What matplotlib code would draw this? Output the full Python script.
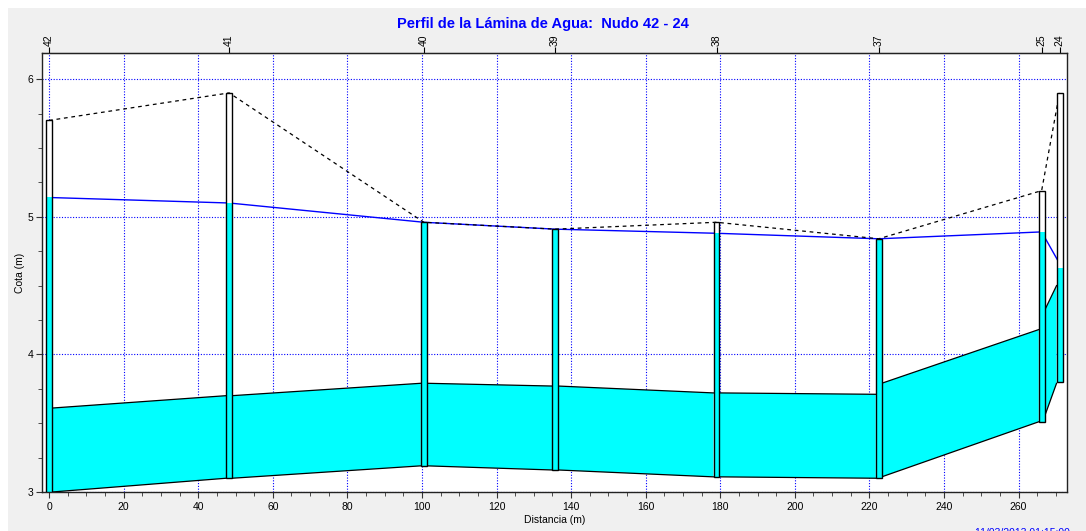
import matplotlib
matplotlib.use("Agg")
import matplotlib.pyplot as plt
from matplotlib.patches import Rectangle, Polygon

plt.rcParams['font.family'] = ['Liberation Sans', 'DejaVu Sans']

# nodes along the profile
nodes = ['42', '41', '40', '39', '38', '37', '25', '24']
dist = [0.0, 48.3, 100.5, 135.7, 179.0, 222.5, 266.2, 271.0]
ground = [5.70, 5.90, 4.96, 4.91, 4.96, 4.84, 5.19, 5.90]
invert = [3.00, 3.10, 3.19, 3.16, 3.11, 3.10, 3.51, 3.80]
water = [5.14, 5.10, 4.96, 4.91, 4.88, 4.84, 4.89, 4.63]
water_line = [5.14, 5.10, 4.96, 4.91, 4.88, 4.84, 4.89, 4.66]

# conduits between consecutive nodes (invert / crown at each end)
pipe_inv_up = [3.00, 3.10, 3.19, 3.16, 3.11, 3.11, 3.55]
pipe_inv_dn = [3.10, 3.19, 3.16, 3.11, 3.10, 3.51, 3.79]
pipe_top_up = [3.61, 3.70, 3.79, 3.77, 3.72, 3.79, 4.32]
pipe_top_dn = [3.70, 3.79, 3.77, 3.72, 3.71, 4.18, 4.50]

W, H = 1086, 531
fig = plt.figure(figsize=(W / 100, H / 100), dpi=100, facecolor='white')
fig.patches.append(Rectangle((8 / W, 0), 1, 1 - 8 / H, transform=fig.transFigure,
                             facecolor='#f0f0f0', edgecolor='none', zorder=-10))
ax = fig.add_axes([42 / W, 1 - 492 / H, (1067 - 42) / W, (492 - 53) / H])
ax.set_facecolor('white')

hw = 0.8  # half width of manhole box

# pipes
for i in range(len(pipe_inv_up)):
    x0 = dist[i] + hw
    x1 = dist[i + 1] - hw
    poly = Polygon([(x0, pipe_inv_up[i]), (x1, pipe_inv_dn[i]),
                    (x1, pipe_top_dn[i]), (x0, pipe_top_up[i])],
                   closed=True, facecolor='#00ffff', edgecolor='none', zorder=2)
    ax.add_patch(poly)
    ax.plot([x0, x1], [pipe_inv_up[i], pipe_inv_dn[i]], color='black', lw=0.9, zorder=3)
    ax.plot([x0, x1], [pipe_top_up[i], pipe_top_dn[i]], color='black', lw=0.9, zorder=3)

# water and ground lines
ax.plot(dist, water_line, color='#0000ff', lw=1.0, zorder=3)
ax.plot(dist, ground, color='black', lw=0.9, linestyle=(0, (3, 3)), zorder=3)

# manholes
for x, g, inv, wl in zip(dist, ground, invert, water):
    ax.add_patch(Rectangle((x - hw, inv), 2 * hw, g - inv, facecolor='white',
                           edgecolor='none', zorder=4))
    ax.add_patch(Rectangle((x - hw, inv), 2 * hw, wl - inv, facecolor='#00ffff',
                           edgecolor='none', zorder=5))
    ax.add_patch(Rectangle((x - hw, inv), 2 * hw, g - inv, facecolor='none',
                           edgecolor='black', lw=1.0, zorder=6))

ax.set_xlim(-1.9, 273)
ax.set_ylim(3.0, 6.19)
ax.set_xticks(range(0, 261, 20))
ax.set_xticks(range(0, 271, 5), minor=True)
ax.set_yticks([3, 4, 5, 6])
ax.set_yticks([3 + 0.25 * k for k in range(13)], minor=True)
ax.grid(True, which='major', color='#0000ff', linestyle=(0, (1, 1.5)), lw=0.8)
ax.set_axisbelow(True)
ax.tick_params(axis='both', which='major', labelsize=7.5, length=4, direction='out',
               colors='#333333', labelcolor='black')
ax.tick_params(axis='y', which='major', pad=2)
ax.tick_params(axis='both', which='minor', length=3, direction='out', colors='#333333')
for s in ax.spines.values():
    s.set_color('#222222')
    s.set_linewidth(1.0)

ax.set_xlabel('Distancia (m)', fontsize=7.5, labelpad=2)
ax.set_ylabel('Cota (m)', fontsize=7.5)
ax.yaxis.set_label_coords(-(42 - 25) / 1025, 0.5)

top = ax.secondary_xaxis('top')
top.set_xticks(dist)
top.set_xticklabels(nodes, rotation=90, fontsize=7.5)
top.tick_params(length=4, direction='out', pad=1)
top.xaxis.set_minor_locator(matplotlib.ticker.NullLocator())

fig.text(543 / W, 1 - 24 / H, 'Perfil de la Lámina de Agua:  Nudo 42 - 24',
         color='#0000ff', fontsize=10.5, fontweight='bold', ha='center', va='center')
fig.text(975 / W, -0.004, '11/03/2013 01:15:00', color='#0000ff', fontsize=7.5,
         ha='left', va='center')

fig.savefig('out.png', dpi=100, facecolor=fig.get_facecolor())
